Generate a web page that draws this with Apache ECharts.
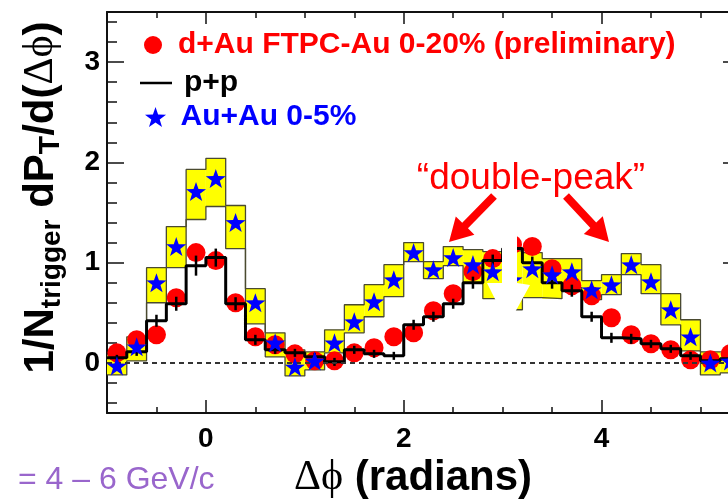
<!DOCTYPE html>
<html>
<head>
<meta charset="utf-8">
<script src="https://cdn.jsdelivr.net/npm/echarts@6/dist/echarts.min.js"></script>
<style>
html, body { margin: 0; padding: 0; background: #ffffff; }
#chart { width: 728px; height: 500px; }
</style>
</head>
<body>
<div id="chart"></div>
<script>
// Δφ bin centres (radians); every bin is 0.2 rad wide
const binCenters = [-0.9, -0.7, -0.5, -0.3, -0.1, 0.1, 0.3, 0.5, 0.7, 0.9, 1.1, 1.3, 1.5, 1.7, 1.9, 2.1,
                    2.3, 2.5, 2.7, 2.9, 3.1, 3.3, 3.5, 3.7, 3.9, 4.1, 4.3, 4.5, 4.7, 4.9, 5.1, 5.3];
const binWidth = 0.2;

// d+Au FTPC-Au 0-20% (preliminary)
const dAuValues = [0.10, 0.23, 0.28, 0.65, 1.10, 1.02, 0.60, 0.26, 0.18, 0.09, 0.02, 0.02, 0.10, 0.15, 0.26, 0.30,
                   0.52, 0.69, 0.91, 1.04, 1.18, 1.16, 0.94, 0.77, 0.67, 0.45, 0.28, 0.19, 0.13, 0.03, 0.03, 0.09];

// p+p reference histogram and its statistical errors
const ppValues = [0.05, 0.11, 0.42, 0.59, 0.97, 1.05, 0.59, 0.23, 0.13, 0.10, 0.06, 0.01, 0.13, 0.09, 0.07, 0.38,
                  0.46, 0.59, 0.80, 1.02, 1.14, 1.00, 0.80, 0.72, 0.46, 0.25, 0.24, 0.19, 0.14, 0.07, 0.02, 0.04];
const ppErrors = [0.03, 0.04, 0.06, 0.07, 0.10, 0.09, 0.065, 0.05, 0.04, 0.04, 0.04, 0.04, 0.04, 0.04, 0.04, 0.05,
                  0.05, 0.05, 0.06, 0.06, 0.06, 0.06, 0.06, 0.06, 0.05, 0.05, 0.05, 0.04, 0.04, 0.04, 0.04, 0.04];

// Au+Au 0-5% with systematic band (upper / lower edge per bin)
const auAuValues = [-0.03, 0.16, 0.80, 1.16, 1.71, 1.84, 1.40, 0.60, 0.20, -0.04, 0.02, 0.20, 0.41, 0.61, 0.83, 1.10,
                    0.93, 1.05, 0.98, 0.91, 0.83, 0.94, 0.88, 0.91, 0.73, 0.78, 0.98, 0.81, 0.53, 0.26, 0.00, 0.02];
const auAuSysHigh = [0.08, 0.26, 0.95, 1.36, 1.93, 2.04, 1.57, 0.74, 0.30, 0.13, 0.11, 0.33, 0.58, 0.78, 0.98, 1.20,
                     1.01, 1.16, 1.13, 1.11, 1.12, 1.10, 1.04, 1.04, 0.82, 0.88, 1.09, 0.98, 0.69, 0.43, 0.11, 0.10];
const auAuSysLow = [-0.12, 0.02, 0.60, 0.95, 1.43, 1.56, 1.14, 0.39, 0.06, -0.13, -0.07, 0.10, 0.30, 0.46, 0.66, 1.01,
                    0.84, 0.97, 0.80, 0.64, 0.53, 0.65, 0.64, 0.75, 0.63, 0.68, 0.88, 0.69, 0.38, 0.12, -0.12, -0.10];

// axis ticks
const xMajorTicks = [0, 2, 4];
const xMinorTicks = [-0.5, 0, 0.5, 1, 1.5, 2, 2.5, 3, 3.5, 4, 4.5, 5];
const yMajorTicks = [0, 1, 2, 3];
const yMinorTicks = [-0.4, -0.2, 0, 0.2, 0.4, 0.6, 0.8, 1, 1.2, 1.4, 1.6, 1.8, 2, 2.2, 2.4, 2.6, 2.8, 3, 3.2, 3.4];

const seriesNames = ['d+Au FTPC-Au 0-20% (preliminary)', 'p+p', 'Au+Au 0-5%'];

const SANS = '"Liberation Sans", Arial, sans-serif';
const SERIF = '"Liberation Serif", "DejaVu Serif", serif';
const STAR = 'path://M0,-10L2.35,-3.24L9.51,-3.09L3.8,1.24L5.88,8.09L0,4L-5.88,8.09L-3.8,1.24L-9.51,-3.09L-2.35,-3.24Z';
const LEGEND_LINE = 'path://M0,0H32V2.5H0Z';

// histogram outline: two points per bin, at its lower and upper edge
function stepPoints(values) {
  const pts = [];
  binCenters.forEach((c, i) => {
    pts.push([c - binWidth / 2, values[i]]);
    pts.push([c + binWidth / 2, values[i]]);
  });
  return pts;
}

// filled arrow polygon from tail to tip
function arrowPoints(tail, tip, shaftHalf, headLen, headHalf) {
  const dx = tip[0] - tail[0], dy = tip[1] - tail[1];
  const len = Math.hypot(dx, dy);
  const ux = dx / len, uy = dy / len, nx = -uy, ny = ux;
  const bx = tip[0] - ux * headLen, by = tip[1] - uy * headLen;
  return [
    [tail[0] + nx * shaftHalf, tail[1] + ny * shaftHalf],
    [bx + nx * shaftHalf, by + ny * shaftHalf],
    [bx + nx * headHalf, by + ny * headHalf],
    tip,
    [bx - nx * headHalf, by - ny * headHalf],
    [bx - nx * shaftHalf, by - ny * shaftHalf],
    [tail[0] - nx * shaftHalf, tail[1] - ny * shaftHalf]
  ];
}

function valueAxis(extra) {
  return Object.assign({
    type: 'value',
    splitLine: { show: false },
    axisLine: { show: false, onZero: false },
    axisLabel: { show: false },
    axisTick: { show: true, inside: true, lineStyle: { color: '#111', width: 1.5 } }
  }, extra);
}

const chart = echarts.init(document.getElementById('chart'), null, { renderer: 'canvas' });

const option = {
  backgroundColor: '#ffffff',
  animation: false,
  grid: { left: 107, right: -12, top: 12, bottom: 87, containLabel: false, outerBoundsMode: 'none' },
  xAxis: [
    valueAxis({
      min: -1, max: 5.4, position: 'bottom',
      axisLine: { show: true, onZero: false, lineStyle: { color: '#111', width: 2 } },
      axisTick: { show: true, inside: true, length: 13, customValues: xMajorTicks, lineStyle: { color: '#111', width: 1.5 } },
      axisLabel: { show: true, customValues: xMajorTicks, margin: 12, color: '#000', fontSize: 28, fontWeight: 'bold', fontFamily: SANS },
      name: '{g|Δϕ}{b| (radians)}',
      nameLocation: 'middle',
      nameGap: 41,
      nameMoveOverlap: false,
      nameTextStyle: {
        padding: [0, 21, 0, 0],
        rich: {
          g: { fontFamily: SERIF, fontSize: 42, color: '#000', lineHeight: 48 },
          b: { fontFamily: SANS, fontSize: 42, fontWeight: 'bold', color: '#000', lineHeight: 48 }
        }
      }
    }),
    valueAxis({ min: -1, max: 5.4, position: 'bottom',
      axisTick: { show: true, inside: true, length: 6, customValues: xMinorTicks, lineStyle: { color: '#111', width: 1.5 } } }),
    valueAxis({ min: -1, max: 5.4, position: 'top',
      axisLine: { show: true, onZero: false, lineStyle: { color: '#111', width: 2 } },
      axisTick: { show: true, inside: true, length: 12, customValues: xMajorTicks, lineStyle: { color: '#111', width: 1.5 } } }),
    valueAxis({ min: -1, max: 5.4, position: 'top',
      axisTick: { show: true, inside: true, length: 6, customValues: xMinorTicks, lineStyle: { color: '#111', width: 1.5 } } })
  ],
  yAxis: [
    valueAxis({
      min: -0.5, max: 3.5, position: 'left',
      axisLine: { show: true, onZero: false, lineStyle: { color: '#111', width: 2 } },
      axisTick: { show: true, inside: true, length: 17, customValues: yMajorTicks, lineStyle: { color: '#111', width: 1.5 } },
      axisLabel: { show: true, customValues: yMajorTicks, margin: 7, color: '#000', fontSize: 28, fontWeight: 'bold', fontFamily: SANS },
      name: '{m|1/N}{s|trigger}{m| dP}{t|T}{m|/d(}{g|Δϕ}{m|)}',
      nameLocation: 'middle',
      nameRotate: 90,
      nameGap: 41,
      nameMoveOverlap: false,
      nameTextStyle: {
        padding: [0, 0, 0, 30],
        rich: {
          m: { fontFamily: SANS, fontSize: 42, fontWeight: 'bold', color: '#000', lineHeight: 50 },
          s: { fontFamily: SANS, fontSize: 28, fontWeight: 'bold', color: '#000', lineHeight: 6, verticalAlign: 'bottom' },
          t: { fontFamily: SANS, fontSize: 30, fontWeight: 'bold', color: '#000', lineHeight: 14, verticalAlign: 'bottom' },
          g: { fontFamily: SERIF, fontSize: 42, color: '#000', lineHeight: 50 }
        }
      }
    }),
    valueAxis({ min: -0.5, max: 3.5, position: 'left',
      axisTick: { show: true, inside: true, length: 10, customValues: yMinorTicks, lineStyle: { color: '#111', width: 1.5 } } }),
    valueAxis({ min: -0.5, max: 3.5, position: 'right',
      axisTick: { show: true, inside: true, length: 17, customValues: yMajorTicks, lineStyle: { color: '#111', width: 1.5 } } }),
    valueAxis({ min: -0.5, max: 3.5, position: 'right',
      axisTick: { show: true, inside: true, length: 10, customValues: yMinorTicks, lineStyle: { color: '#111', width: 1.5 } } })
  ],
  legend: [
    {
      data: [{ name: seriesNames[0], textStyle: { color: '#ff0000' } }],
      left: 144, top: 30, padding: 0, itemWidth: 40, itemHeight: 18, selectedMode: false,
      textStyle: { fontSize: 30, fontWeight: 'bold', fontFamily: SANS, color: '#ff0000' }
    },
    {
      data: [{ name: seriesNames[1], icon: LEGEND_LINE, itemStyle: { color: '#000' }, textStyle: { color: '#000000' } }],
      left: 140, top: 68, padding: 0, itemWidth: 32, itemHeight: 18, selectedMode: false,
      textStyle: { fontSize: 30, fontWeight: 'bold', fontFamily: SANS, color: '#000', padding: [0, 0, 0, 7] }
    },
    {
      data: [{ name: seriesNames[2], textStyle: { color: '#0000ff' } }],
      left: 145, top: 102, padding: 0, itemWidth: 40, itemHeight: 20, selectedMode: false,
      textStyle: { fontSize: 30, fontWeight: 'bold', fontFamily: SANS, color: '#0000ff' }
    }
  ],
  series: [
    {
      // Au+Au systematic boxes
      type: 'custom', name: 'auAuSys', xAxisIndex: 0, yAxisIndex: 0, z: 1, silent: true, clip: true,
      data: binCenters.map((c, i) => [c, auAuSysLow[i], auAuSysHigh[i]]),
      renderItem: function (params, api) {
        const c = api.value(0);
        const p1 = api.coord([c - binWidth / 2, api.value(2)]);
        const p2 = api.coord([c + binWidth / 2, api.value(1)]);
        return { type: 'rect', shape: { x: p1[0], y: p1[1], width: p2[0] - p1[0], height: p2[1] - p1[1] },
                 style: { fill: '#ffff00' } };
      },
      markLine: {
        silent: true, symbol: 'none', label: { show: false },
        lineStyle: { type: [5, 4], color: '#333', width: 2 },
        data: [{ yAxis: 0 }]
      }
    },
    {
      type: 'line', name: 'auAuSysUpper', z: 2, silent: true, symbol: 'none',
      data: stepPoints(auAuSysHigh),
      lineStyle: { color: '#4a4a30', width: 1.3 }
    },
    {
      type: 'line', name: 'auAuSysLower', z: 2, silent: true, symbol: 'none',
      data: stepPoints(auAuSysLow),
      lineStyle: { color: '#4a4a30', width: 1.3 }
    },
    {
      type: 'scatter', name: seriesNames[0], z: 3,
      symbol: 'circle', symbolSize: 19,
      itemStyle: { color: '#ff0000', opacity: 1 },
      data: binCenters.map((c, i) => [c, dAuValues[i]])
    },
    {
      type: 'line', name: seriesNames[1], z: 4, symbol: 'none', showSymbol: false,
      data: stepPoints(ppValues),
      lineStyle: { color: '#000', width: 3 },
      itemStyle: { color: '#000' }
    },
    {
      type: 'custom', name: 'ppErrors', z: 4, silent: true, clip: true,
      data: binCenters.map((c, i) => [c, ppValues[i] - ppErrors[i], ppValues[i] + ppErrors[i]]),
      renderItem: function (params, api) {
        const lo = api.coord([api.value(0), api.value(1)]);
        const hi = api.coord([api.value(0), api.value(2)]);
        return { type: 'line', shape: { x1: lo[0], y1: lo[1], x2: hi[0], y2: hi[1] },
                 style: { stroke: '#000', lineWidth: 2.5 } };
      }
    },
    {
      type: 'scatter', name: seriesNames[2], z: 5,
      symbol: STAR, symbolSize: 20, symbolKeepAspect: true,
      itemStyle: { color: '#0000ff', opacity: 1 },
      data: binCenters.map((c, i) => [c, auAuValues[i]])
    }
  ],
  graphic: [
    {
      // white overlay arrow on the away-side region
      type: 'polygon', z: 100,
      shape: { points: [[502, 206], [517, 206], [517, 283], [530, 285], [508, 325], [487, 283], [502, 283]] },
      style: { fill: '#ffffff' }
    },
    {
      type: 'text', z: 101,
      style: { text: '\u201Cdouble-peak\u201D', x: 531, y: 179, fill: '#ff0000',
               font: '37px "Liberation Sans", Arial, sans-serif', textAlign: 'center', textVerticalAlign: 'middle' }
    },
    {
      type: 'polygon', z: 101,
      shape: { points: arrowPoints([494, 196], [449, 242], 4, 23, 13) },
      style: { fill: '#ff0000' }
    },
    {
      type: 'polygon', z: 101,
      shape: { points: arrowPoints([566, 196], [609, 242], 4, 23, 13) },
      style: { fill: '#ff0000' }
    },
    {
      type: 'text', z: 101,
      style: { text: '= 4 \u2013 6 GeV/c', x: 18, y: 480, fill: '#9966cc',
               font: '32px "Liberation Sans", Arial, sans-serif', textAlign: 'left', textVerticalAlign: 'middle' }
    }
  ]
};

chart.setOption(option);
</script>
</body>
</html>
